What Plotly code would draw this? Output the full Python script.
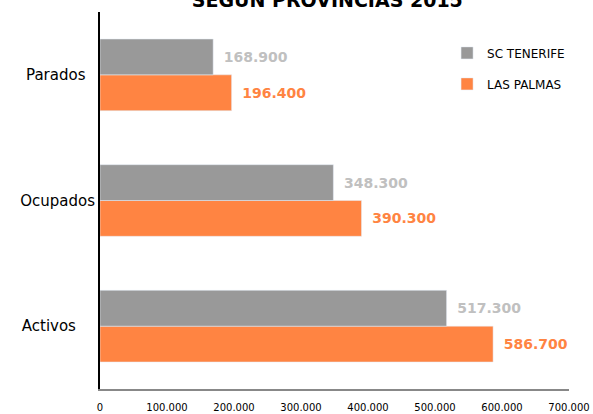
import plotly.graph_objects as go

categories = ["Activos", "Ocupados", "Parados"]
category_labels = ["Activos\u00a0\u00a0\u00a0\u00a0", "Ocupados", "Parados\u00a0\u00a0"]
las_palmas = [586700, 390300, 196400]
sc_tenerife = [517300, 348300, 168900]
x_ticks = [0, 100000, 200000, 300000, 400000, 500000, 600000, 700000]

orange = "#FF8442"
gray = "#999999"

fig = go.Figure()
fig.add_trace(go.Bar(
    y=categories, x=las_palmas, orientation="h", name="LAS PALMAS",
    marker=dict(color=orange), legendgroup="lp", legendrank=2,
    texttemplate="\u00a0\u2009%{x:,}", textposition="outside", cliponaxis=False,
    textfont=dict(family="DejaVu Sans", size=14, color=orange, weight="bold"),
))
fig.add_trace(go.Bar(
    y=categories, x=sc_tenerife, orientation="h", name="SC TENERIFE",
    marker=dict(color=gray), legendgroup="sc", legendrank=1,
    texttemplate="\u00a0\u2009%{x:,}", textposition="outside", cliponaxis=False,
    textfont=dict(family="DejaVu Sans", size=14, color="#C0C0C0", weight="bold"),
))

fig.update_layout(
    width=593, height=414,
    margin=dict(l=100, r=24, t=12, b=25),
    paper_bgcolor="white", plot_bgcolor="white",
    barmode="group", bargap=0.43, bargroupgap=0,
    separators=",.",
    font=dict(family="DejaVu Sans", color="#000000"),
    title=dict(text="<b>SEGUN PROVINCIAS 2015</b>", x=0.552, xanchor="center",
               y=1.0, yref="container", yanchor="middle",
               font=dict(size=19, color="#000000")),
    legend=dict(x=0.74, y=0.93, xanchor="left", yanchor="top",
                traceorder="grouped", tracegroupgap=12,
                font=dict(size=12, color="#000000"), itemwidth=30),
    showlegend=True,
)
fig.update_xaxes(
    range=[0, 700000], tickvals=x_ticks, tickformat=",",
    showgrid=False, zeroline=False, showline=True, linecolor="#888888", linewidth=2,
    ticks="", ticklabelstandoff=8, tickfont=dict(size=10), automargin=False,
)
fig.update_yaxes(
    tickvals=categories, ticktext=category_labels,
    showgrid=False, zeroline=False, showline=True, linecolor="#000000", linewidth=2,
    ticks="", ticklabelstandoff=0, tickfont=dict(size=15), automargin=False,
)

fig.write_html("out.html", config={"displayModeBar": False},
               post_script="document.body.style.margin='0';")
